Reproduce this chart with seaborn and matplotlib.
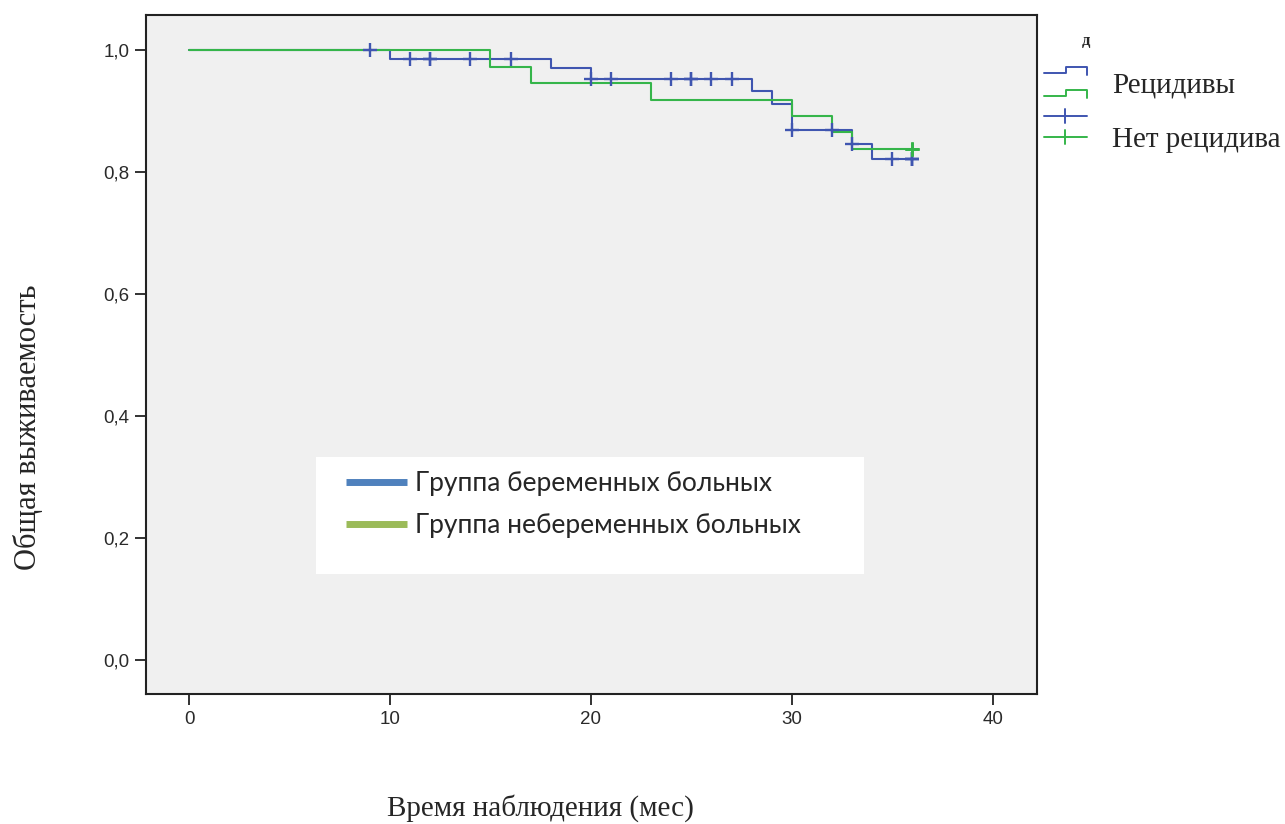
import matplotlib
matplotlib.use("Agg")
import matplotlib.pyplot as plt
import seaborn as sns
import pandas as pd
from matplotlib.lines import Line2D
from matplotlib.patches import Rectangle
from matplotlib.ticker import FuncFormatter

# Kaplan-Meier steps
preg_time = [0, 10, 18, 20, 28, 29, 30, 33, 34, 36]
preg_surv = [1.0, 0.985, 0.970, 0.952, 0.932, 0.911, 0.868, 0.845, 0.821, 0.821]
preg_cens_time = [9, 11, 12, 12, 14, 16, 20, 21, 24, 25, 25, 26, 27, 30, 32, 33, 35, 36, 36, 36]
preg_cens_surv = [1.0, 0.985, 0.985, 0.985, 0.985, 0.985, 0.952, 0.952, 0.952, 0.952, 0.952,
                  0.952, 0.952, 0.868, 0.868, 0.845, 0.821, 0.821, 0.821, 0.821]

nonpreg_time = [0, 15, 17, 23, 30, 32, 33, 36]
nonpreg_surv = [1.0, 0.972, 0.946, 0.918, 0.892, 0.865, 0.838, 0.838]
nonpreg_cens_time = [36, 36, 36]
nonpreg_cens_surv = [0.838, 0.838, 0.838]

group_labels = ["Группа беременных больных", "Группа небеременных больных"]
status_labels = ["Рецидивы", "Нет рецидива"]
y_ticks = [0.0, 0.2, 0.4, 0.6, 0.8, 1.0]
x_ticks = [0, 10, 20, 30, 40]

BLUE = "#3f55b0"
GREEN = "#35b54a"

W, H = 1285, 824
sns.set_style("ticks")
plt.rcParams["font.family"] = ["Liberation Sans", "DejaVu Sans"]

fig = plt.figure(figsize=(W / 100, H / 100), dpi=100)
ax = fig.add_axes([146 / W, 1 - 694 / H, (1037 - 146) / W, (694 - 15) / H])
ax.set_facecolor("#f0f0f0")

preg = pd.DataFrame({"t": preg_time, "s": preg_surv})
nonpreg = pd.DataFrame({"t": nonpreg_time, "s": nonpreg_surv})
sns.lineplot(data=preg, x="t", y="s", drawstyle="steps-post", color=BLUE,
             lw=1.5, estimator=None, sort=False, ax=ax)
sns.scatterplot(x=preg_cens_time, y=preg_cens_surv, marker="+", s=110,
                color=BLUE, linewidth=1.7, ax=ax, zorder=4)
sns.lineplot(data=nonpreg, x="t", y="s", drawstyle="steps-post", color=GREEN,
             lw=1.5, estimator=None, sort=False, ax=ax)
sns.scatterplot(x=nonpreg_cens_time, y=nonpreg_cens_surv, marker="+", s=110,
                color=GREEN, linewidth=1.8, ax=ax, zorder=5)

ax.set_xlim(-2.14, 42.2)
ax.set_ylim(-0.056, 1.057)
ax.set_xticks(x_ticks)
ax.set_yticks(y_ticks)
ax.yaxis.set_major_formatter(FuncFormatter(lambda v, _: f"{v:.1f}".replace(".", ",")))
ax.tick_params(direction="out", length=8, width=1.3, color="#222222",
               labelsize=13.5, labelcolor="#2a2a2a", pad=4)
for sp in ax.spines.values():
    sp.set_visible(True)
    sp.set_color("#222222")
    sp.set_linewidth(1.5)
ax.set_xlabel("")
ax.set_ylabel("")

serif = ["Liberation Serif", "DejaVu Serif"]
fig.text(540 / W, 1 - 808 / H, "Время наблюдения (мес)", ha="center", va="center",
         fontsize=21, family=serif)
fig.text(28 / W, 1 - 427 / H, "Общая выживаемость", ha="center", va="center",
         rotation=90, fontsize=22, family=serif)

# white box with the group legend
bx0, bx1, by0, by1 = 316, 864, 457, 574
ax.add_patch(Rectangle(((bx0 - 146) / 891, (694 - by1) / 679), (bx1 - bx0) / 891,
                       (by1 - by0) / 679, transform=ax.transAxes, facecolor="white",
                       edgecolor="none", zorder=6))
handles = [Line2D([], [], color="#4f81bd", lw=5, solid_capstyle="butt"),
           Line2D([], [], color="#9bbb59", lw=5, solid_capstyle="butt")]
leg = ax.legend(handles, group_labels, loc="upper left",
                bbox_to_anchor=((346 - 146) / 891, (694 - 471) / 679),
                frameon=False, borderpad=0, borderaxespad=0, handlelength=2.3,
                handletextpad=0.3, labelspacing=0.65,
                prop={"family": ["Lato", "DejaVu Sans"], "size": 19})
leg.set_zorder(7)


# legend for the curve/censoring glyphs on the right
def px(xs, ys):
    return [x / W for x in xs], [1 - y / H for y in ys]


for col, dy in [(BLUE, 0), (GREEN, 23)]:
    xs, ys = px([1044, 1066, 1066, 1087, 1087],
                [73 + dy, 73 + dy, 67 + dy, 67 + dy, 75 + dy])
    fig.add_artist(Line2D(xs, ys, color=col, lw=1.4, transform=fig.transFigure))
for col, yc in [(BLUE, 116), (GREEN, 137)]:
    xs, ys = px([1044, 1087], [yc, yc])
    fig.add_artist(Line2D(xs, ys, color=col, lw=1.4, transform=fig.transFigure))
    xs, ys = px([1065, 1065], [yc - 7, yc + 7])
    fig.add_artist(Line2D(xs, ys, color=col, lw=1.4, transform=fig.transFigure))

fig.text(1082 / W, 1 - 41 / H, "д", ha="left", va="center", fontsize=12,
         weight="bold", family=serif)
fig.text(1112 / W, 1 - 86 / H, status_labels[0], ha="left", va="center",
         fontsize=21, family=serif)
fig.text(1112 / W, 1 - 140 / H, status_labels[1], ha="left", va="center",
         fontsize=21, family=serif)

fig.savefig("out.png", dpi=100, facecolor="white")
